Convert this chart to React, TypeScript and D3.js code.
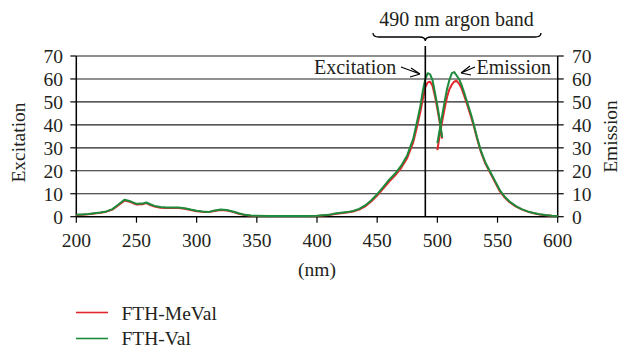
import React from "react";
import * as d3 from "d3";

const excWavelengths = [200,205,210,215,220,225,230,235,240,245,250,255,258,262,265,270,275,280,285,290,295,300,305,310,315,320,325,330,335,340,345,350,360,370,380,390,400,410,415,420,425,430,435,440,445,450,455,460,465,470,475,480,483,486,488,490,492,494,496,498,500,502,504];
const valExcitation = [0.8,1.0,1.2,1.5,1.8,2.3,3.3,5.3,7.4,6.7,5.6,5.7,6.2,5.3,4.7,4.2,4.0,4.0,4.0,3.7,3.1,2.6,2.3,2.1,2.7,3.1,2.9,2.3,1.5,0.8,0.5,0.4,0.3,0.3,0.3,0.3,0.4,0.8,1.4,1.7,2.0,2.5,3.4,4.9,7.1,9.8,12.9,16.1,18.8,22.2,26.8,34.0,41.0,48.5,55.0,60.0,62.5,62.0,59.5,54.0,48.5,42.0,34.5];
const meValExcitation = [0.7,0.9,1.1,1.4,1.7,2.2,3.1,5.0,7.0,6.4,5.3,5.4,5.9,5.0,4.4,3.9,3.8,3.8,3.8,3.5,2.9,2.4,2.1,2.0,2.5,2.9,2.7,2.1,1.3,0.7,0.4,0.3,0.3,0.3,0.3,0.3,0.3,0.7,1.2,1.5,1.8,2.3,3.1,4.5,6.6,9.2,12.2,15.3,18.0,21.3,25.6,32.5,39.0,46.0,51.5,56.5,58.5,58.8,57.0,52.5,47.0,41.0,34.0];

const emWavelengths = [500,502,504,506,508,510,512,514,516,518,520,522,525,528,530,533,536,540,544,548,552,556,560,565,570,575,580,585,590,595,600];
const valEmission = [32,38,44,50,55.5,59.5,62.5,63.0,61.5,60.0,57.5,54.5,49.5,44.5,40.7,34.5,29.0,23.5,19.5,15.5,11.5,8.7,6.6,4.7,3.3,2.3,1.6,1.1,0.7,0.4,0.3];
const meValEmission = [29,35.5,41.5,47,52,55.5,57.5,58.8,59.2,58.0,56.0,53.2,48.5,43.5,40.0,34.0,28.5,23.0,19.0,15.0,11.0,8.3,6.3,4.5,3.2,2.2,1.5,1.0,0.6,0.4,0.3];

const xTicks = [200,250,300,350,400,450,500,550,600];
const yTicks = [0,10,20,30,40,50,60,70];
const argonBand = 490;
const seriesNames = ["FTH-MeVal", "FTH-Val"];
const seriesColors = ["#e3262b", "#1e8a3c"];

const FONT = "'Liberation Serif', 'Times New Roman', serif";
const TXT = "#231f20";

export default function App() {
  const left = 76.3, right = 557.7, top = 56, bottom = 216.7;
  const x = d3.scaleLinear().domain([200, 600]).range([left, right]);
  const y = d3.scaleLinear().domain([0, 70]).range([bottom, top]);
  const line = d3.line<[number, number]>().x(d => x(d[0])).y(d => y(d[1]));
  const zip = (w: number[], v: number[]) => w.map((ww, i) => [ww, v[i]] as [number, number]);

  const series = [
    { color: seriesColors[0], exc: zip(excWavelengths, meValExcitation), em: zip(emWavelengths, meValEmission) },
    { color: seriesColors[1], exc: zip(excWavelengths, valExcitation), em: zip(emWavelengths, valEmission) },
  ];
  const bx = x(argonBand);
  const bl = 373, br = 541, by = 33, bm = 37;
  const brace = `M${bl},${by} Q${bl},${bm} ${bl + 6},${bm} L${bx - 6},${bm} Q${bx},${bm} ${bx},${bm + 4} Q${bx},${bm} ${bx + 6},${bm} L${br - 6},${bm} Q${br},${bm} ${br},${by}`;

  return (
    <svg width={622} height={348} style={{ position: "absolute", left: 0, top: 0, background: "#fff" }} fontFamily={FONT}>
      {yTicks.map(t => (
        <line key={"g" + t} x1={left} x2={right} y1={y(t)} y2={y(t)} stroke={t === 0 ? "#000" : "#222"} strokeWidth={t === 0 ? 1.6 : 1.1} />
      ))}
      <line x1={left} x2={left} y1={top} y2={bottom} stroke="#000" strokeWidth={1.5} />
      <line x1={right} x2={right} y1={top} y2={bottom} stroke="#000" strokeWidth={1.5} />
      {yTicks.map(t => (
        <g key={"yt" + t}>
          <line x1={left - 6} x2={left} y1={y(t)} y2={y(t)} stroke="#000" strokeWidth={1.2} />
          <line x1={right} x2={right + 6} y1={y(t)} y2={y(t)} stroke="#000" strokeWidth={1.2} />
          <text x={63} y={y(t)} dy="0.35em" textAnchor="end" fontSize={19.5} fill={TXT}>{t}</text>
          <text x={572} y={y(t)} dy="0.35em" textAnchor="start" fontSize={19.5} fill={TXT}>{t}</text>
        </g>
      ))}
      {xTicks.map(t => (
        <g key={"xt" + t}>
          <line x1={x(t)} x2={x(t)} y1={bottom} y2={bottom + 6} stroke="#000" strokeWidth={1.2} />
          <text x={x(t)} y={247} textAnchor="middle" fontSize={19.5} fill={TXT}>{t}</text>
        </g>
      ))}
      <text x={(left + right) / 2} y={276} textAnchor="middle" fontSize={19.5} fill={TXT}>(nm)</text>
      <text transform={`translate(25,142.5) rotate(-90)`} textAnchor="middle" fontSize={19.5} fill={TXT}>Excitation</text>
      <text transform={`translate(617,136.5) rotate(-90)`} textAnchor="middle" fontSize={19.5} fill={TXT}>Emission</text>

      {series.map((s, i) => (
        <g key={"s" + i}>
          <path d={line(s.exc) || ""} fill="none" stroke={s.color} strokeWidth={2} strokeLinejoin="round" />
          <path d={line(s.em) || ""} fill="none" stroke={s.color} strokeWidth={2} strokeLinejoin="round" />
        </g>
      ))}

      <line x1={bx} x2={bx} y1={46} y2={bottom} stroke="#000" strokeWidth={1.6} />
      <path d={brace} fill="none" stroke="#000" strokeWidth={1.3} />
      <text x={456.5} y={26} textAnchor="middle" fontSize={20} fill={TXT}>490 nm argon band</text>

      <text x={314} y={74} fontSize={20} fill={TXT}>Excitation</text>
      <path d="M401,67 L420,74 M420,74 L411,68 M420,74 L410,77" fill="none" stroke="#000" strokeWidth={1.2} />
      <text x={476.5} y={74} fontSize={20} fill={TXT}>Emission</text>
      <path d="M475,67 L461,73 M461,73 L470,66 M461,73 L471,75" fill="none" stroke="#000" strokeWidth={1.2} />

      {seriesNames.map((n, i) => (
        <g key={"l" + i}>
          <line x1={76} x2={108} y1={312.5 + i * 26} y2={312.5 + i * 26} stroke={seriesColors[i]} strokeWidth={1.6} />
          <text x={121.5} y={319.5 + i * 25.5} fontSize={19.5} fill={TXT}>{n}</text>
        </g>
      ))}
    </svg>
  );
}
